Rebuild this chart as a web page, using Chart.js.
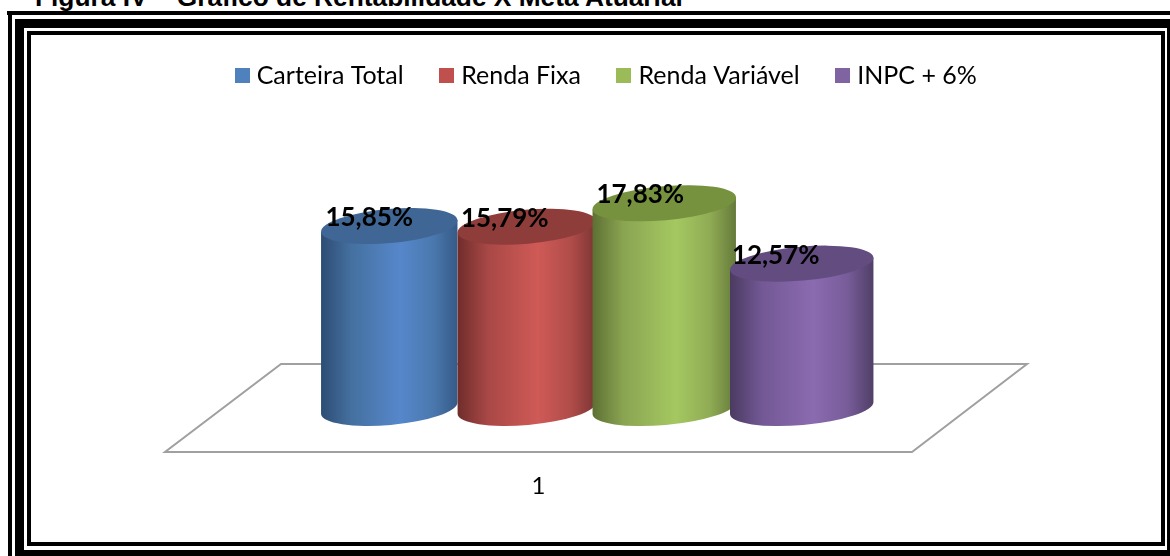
<!DOCTYPE html>
<html lang="pt">
<head>
<meta charset="utf-8">
<script src="https://cdn.jsdelivr.net/npm/chart.js@4/dist/chart.umd.min.js"></script>
<style>
html,body{margin:0;padding:0;background:#fff;width:1170px;height:556px;overflow:hidden}
.r{position:absolute;background:#000}
#title{position:absolute;left:35px;top:-18px;font:bold 26.3px/30px "Liberation Sans",Arial,sans-serif;color:#000;white-space:nowrap}
#c{position:absolute;left:0;top:0}
</style>
</head>
<body>
<div id="title">Figura IV – Gráfico de Rentabilidade X Meta Atuarial</div>
<div class="r" style="left:7px;top:11px;width:1163px;height:4px"></div>
<div class="r" style="left:15px;top:19px;width:1155px;height:9px"></div>
<div class="r" style="left:27px;top:31px;width:1138px;height:4px"></div>
<div class="r" style="left:8px;top:11px;width:4px;height:545px"></div>
<div class="r" style="left:15px;top:19px;width:9px;height:537px"></div>
<div class="r" style="left:27px;top:31px;width:4px;height:515px"></div>
<div class="r" style="left:27px;top:542px;width:1138px;height:4px"></div>
<div class="r" style="left:15px;top:550px;width:1155px;height:6px"></div>
<div class="r" style="left:1161px;top:31px;width:4px;height:515px"></div>
<div class="r" style="left:1167px;top:19px;width:3px;height:537px"></div>
<canvas id="c" width="1170" height="556"></canvas>
<script>
const categories = ["1"];
const seriesNames = ["Carteira Total", "Renda Fixa", "Renda Variável", "INPC + 6%"];
const carteiraTotal = [15.85];
const rendaFixa = [15.79];
const rendaVariavel = [17.83];
const inpc6 = [12.57];
const seriesValues = [carteiraTotal, rendaFixa, rendaVariavel, inpc6];
const legendColors = ["#4f81bd", "#c0504d", "#9bbb59", "#8064a2"];
const topColors = ["#3f6694", "#8f3d3b", "#76923f", "#634d80"];
const barPercents = [0.996, 1.01, 1.047, 1.047];
const sideStops = [
  ["#2d4c73", "#44709f", "#5687cb", "#4a78ae", "#355a87"],
  ["#6f2d2b", "#a84846", "#cf5a56", "#b04c49", "#7a3533"],
  ["#5d7033", "#8aa552", "#a5c861", "#8fab54", "#64793a"],
  ["#4a3a60", "#725894", "#8b6bb0", "#775c99", "#4f3f66"]
];
const FONT = 'Lato, Carlito, Calibri, sans-serif';

function swatch(color){
  const s = document.createElement('canvas');
  s.width = 15; s.height = 15;
  const g = s.getContext('2d');
  g.fillStyle = color; g.fillRect(0,0,15,15);
  return s;
}

const cylinders = {
  id:'cylinders',
  beforeDatasetDraw(){ return false; },
  beforeDatasetsDraw(chart){
    const {ctx, chartArea:a} = chart;
    const dy = 44;
    ctx.save();
    ctx.strokeStyle = '#a0a0a0';
    ctx.lineWidth = 2;
    ctx.beginPath();
    ctx.moveTo(a.left+45, a.bottom+dy);
    ctx.lineTo(a.right-159, a.bottom+dy);
    ctx.lineTo(a.right-44, a.bottom-dy);
    ctx.lineTo(a.left+161, a.bottom-dy);
    ctx.closePath();
    ctx.stroke();
    ctx.restore();
  },
  afterDatasetsDraw(chart){
    const {ctx} = chart;
    const rot = -5*Math.PI/180, ry = 17;
    chart.data.datasets.forEach((ds,i)=>{
      const el = chart.getDatasetMeta(i).data[0];
      const cx = el.x, top = el.y, base = el.base, rx = el.width/2;
      const sx = rx*Math.cos(rot), sy = rx*Math.sin(rot);
      const g = ctx.createLinearGradient(cx-rx,0,cx+rx,0);
      [0,0.22,0.58,0.82,1].forEach((p,k)=>g.addColorStop(p,sideStops[i][k]));
      ctx.save();
      ctx.fillStyle = g;
      ctx.beginPath();
      ctx.moveTo(cx-sx, top-sy);
      ctx.lineTo(cx-sx, base-sy);
      ctx.ellipse(cx, base, rx, ry, rot, Math.PI, 0, true);
      ctx.lineTo(cx+sx, top+sy);
      ctx.closePath();
      ctx.fill();
      ctx.fillStyle = topColors[i];
      ctx.beginPath();
      ctx.ellipse(cx, top, rx, ry, rot, 0, Math.PI*2);
      ctx.fill();
      ctx.restore();
    });
    ctx.save();
    ctx.fillStyle = '#000';
    ctx.font = 'bold 26px '+FONT;
    ctx.textAlign = 'center';
    ctx.textBaseline = 'middle';
    chart.data.datasets.forEach((ds,i)=>{
      const el = chart.getDatasetMeta(i).data[0];
      const t = ds.data[0].toFixed(2).replace('.',',')+'%';
      ctx.fillText(t, el.x-20-i*2, el.y-8.5);
    });
    ctx.restore();
  },
  afterLayout(chart){
    chart.legend.left += 13;
    chart.legend.right += 13;
  }
};

new Chart(document.getElementById('c'),{
  type:'bar',
  data:{
    labels:categories,
    datasets:seriesNames.map((n,i)=>({
      label:n,
      data:seriesValues[i],
      backgroundColor:legendColors[i],
      barPercentage:barPercents[i],
      categoryPercentage:0.5783
    }))
  },
  options:{
    responsive:false,
    animation:false,
    layout:{padding:{left:120,right:99,top:22,bottom:0}},
    plugins:{
      tooltip:{enabled:false},
      title:{display:false},
      legend:{
        display:true,
        position:'top',
        onClick:null,
        labels:{
          color:'#000',
          font:{family:FONT,size:25},
          usePointStyle:true,
          boxWidth:4,
          boxHeight:15,
          padding:41,
          generateLabels(chart){
            return chart.data.datasets.map((d,i)=>({
              text:d.label,
              fontColor:'#000',
              fillStyle:legendColors[i],
              strokeStyle:legendColors[i],
              lineWidth:0,
              pointStyle:swatch(legendColors[i]),
              datasetIndex:i
            }));
          }
        }
      }
    },
    scales:{
      x:{
        grid:{display:false},
        border:{display:false},
        ticks:{color:'#000',font:{family:FONT,size:24},padding:55.6,labelOffset:-57}
      },
      y:{display:false,min:0,max:27,grid:{display:false}}
    }
  },
  plugins:[cylinders]
});
</script>
</body>
</html>
